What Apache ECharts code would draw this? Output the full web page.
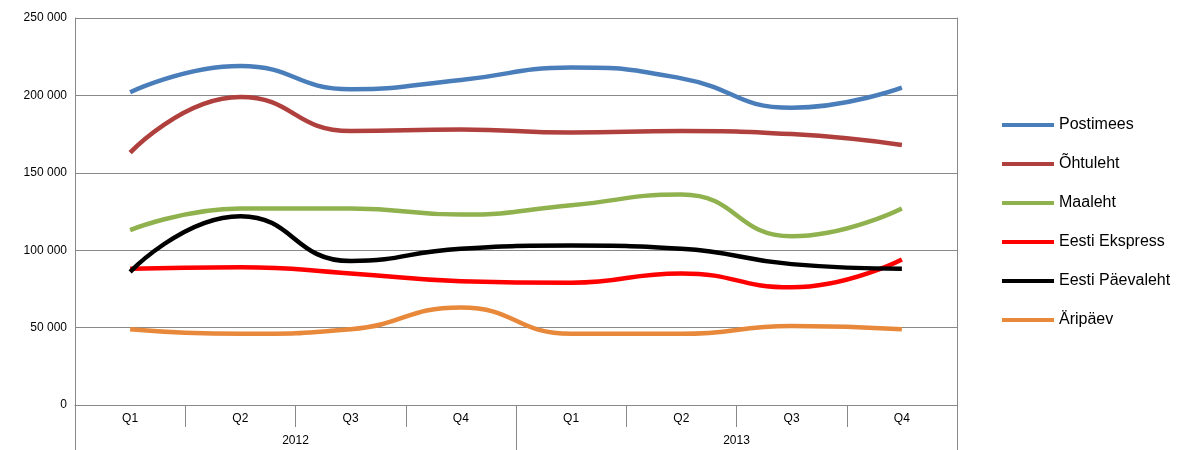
<!DOCTYPE html>
<html><head><meta charset="utf-8">
<script src="https://cdn.jsdelivr.net/npm/echarts@6/dist/echarts.min.js"></script>
<style>html,body{margin:0;padding:0;background:#fff}#c{width:1195px;height:450px}</style>
</head><body><div id="c"></div>
<script>
var quarters = ['Q1','Q2','Q3','Q4','Q1','Q2','Q3','Q4'];
var years = ['2012','2013'];
var postimees = [202000,219000,204000,210000,218000,211000,192000,205000];
var ohtuleht = [163000,199000,177000,178000,176000,177000,175000,168000];
var maaleht = [113000,127000,127000,123000,129000,136000,109000,127000];
var ekspress = [88000,89000,85000,80000,79000,85000,76000,94000];
var paevaleht = [86000,122000,93000,101000,103000,101000,91000,88000];
var aripaev = [49000,46000,49000,63000,46000,46000,51000,49000];

var chart = echarts.init(document.getElementById('c'));
function line(name, data, color) {
  return {name: name, type: 'line', data: data, smooth: 0.5, symbol: 'none',
    lineStyle: {width: 4.5, color: color}, itemStyle: {color: color}};
}
chart.setOption({
  animation: false,
  textStyle: {fontFamily: 'Liberation Sans, Arial, sans-serif'},
  grid: {left: 75, right: 238, top: 18, bottom: 45},
  legend: {
    orient: 'vertical', left: 997, top: 112, itemGap: 23,
    icon: 'rect', itemWidth: 52, itemHeight: 4,
    textStyle: {fontSize: 16, color: '#000'},
    data: ['Postimees','Õhtuleht','Maaleht','Eesti Ekspress','Eesti Päevaleht','Äripäev']
  },
  xAxis: [{
    type: 'category', data: quarters, position: 'bottom',
    axisLine: {onZero: false, lineStyle: {color: '#888'}},
    axisTick: {show: true, interval: 0, length: 22, lineStyle: {color: '#888'}},
    axisLabel: {color: '#000', fontSize: 12, margin: 8}
  }, {
    type: 'category', data: years, position: 'bottom', offset: 22,
    axisLine: {show: false, onZero: false},
    axisTick: {show: true, interval: 0, length: 23, lineStyle: {color: '#888'}},
    axisLabel: {color: '#000', fontSize: 12, margin: 8}
  }],
  yAxis: [{
    type: 'value', min: 0, max: 250000, interval: 50000,
    axisLine: {show: true, onZero: false, lineStyle: {color: '#888'}}, axisTick: {show: false},
    splitLine: {lineStyle: {color: '#888'}},
    axisLabel: {color: '#000', fontSize: 12,
      formatter: function (v) { return v === 0 ? '0' : String(v).replace(/(\d)(?=(\d{3})+$)/g, '$1 '); }}
  }, {
    type: 'value', position: 'right', min: 0, max: 250000, interval: 50000,
    axisLine: {show: true, onZero: false, lineStyle: {color: '#888'}}, axisTick: {show: false},
    axisLabel: {show: false}, splitLine: {show: false}
  }],
  series: [
    line('Postimees', postimees, '#4a7ebb'),
    line('Õhtuleht', ohtuleht, '#b0403d'),
    line('Maaleht', maaleht, '#8fb24e'),
    line('Eesti Ekspress', ekspress, '#ff0000'),
    line('Eesti Päevaleht', paevaleht, '#000000'),
    line('Äripäev', aripaev, '#e8883a')
  ]
});
</script></body></html>
